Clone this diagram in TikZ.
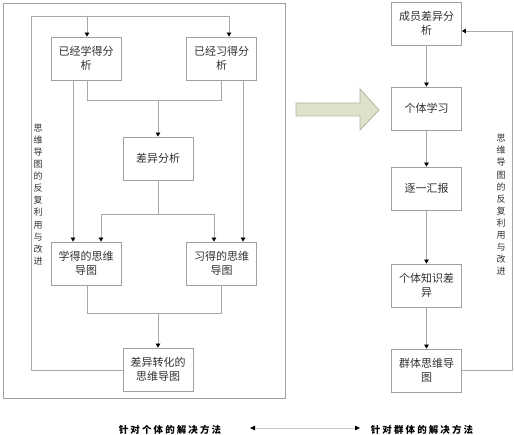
\documentclass[tikz,border=0pt]{standalone}
\usepackage{fontspec}
\newfontfamily\cjk{Noto Sans CJK SC}
\newfontfamily\cjksp[LetterSpace=22]{Noto Sans CJK SC}
\usetikzlibrary{arrows.meta}
\definecolor{boxgray}{HTML}{A0A0A0}
\definecolor{linegray}{HTML}{A8A8A8}
\definecolor{txt}{HTML}{303030}
\definecolor{arrfill}{HTML}{DDE2CC}
\definecolor{arrdraw}{HTML}{B0B69A}
\begin{document}
\begin{tikzpicture}[x=1pt,y=-1pt,
  box/.style={draw=boxgray,line width=0.8pt,minimum width=70pt,minimum height=43pt,align=center,font=\cjk\fontsize{11}{14.5}\selectfont,text=txt,inner sep=0pt},
  conn/.style={draw=linegray,line width=0.8pt},
  arr/.style={conn,-{Triangle[length=4pt,width=4.5pt,color=black]}},
  vtext/.style={align=center,font=\cjk\fontsize{9}{12.1}\selectfont,text=txt,inner sep=0pt},
  captext/.style={font=\cjksp\bfseries\fontsize{9.5}{11}\selectfont,text=black,inner sep=0pt}]
\useasboundingbox (0,0) rectangle (514,435);
% outer frame
\draw[draw=boxgray,line width=0.8pt] (3,3) rectangle (285,398);
% left boxes
\node[box] (A) at (86,58.5) {已经学得分\\析};
\node[box] (B) at (221.5,58.5) {已经习得分\\析};
\node[box] (C) at (158,158.5) {差异分析};
\node[box] (D) at (86,263.5) {学得的思维\\导图};
\node[box] (E) at (221.5,263.5) {习得的思维\\导图};
\node[box] (F) at (158,369.5) {差异转化的\\思维导图};
% right boxes
\node[box] (G) at (426.5,23.5) {成员差异分\\析};
\node[box] (H) at (426.5,108.5) {个体学习};
\node[box] (I) at (426.5,188.5) {逐一汇报};
\node[box] (J) at (426.5,285.5) {个体知识差\\异};
\node[box] (K) at (426.5,370.5) {群体思维导\\图};
% left loop
\draw[conn] (F.west |- 0,370) -- (31,370) -- (31,16) -- (229,16);
\draw[arr] (87,16) -- (87,0 |- A.north);
\draw[arr] (229,16) -- (229,0 |- B.north);
% A,B -> C
\draw[conn] (87,0 |- A.south) -- (87,100) -- (221,100) -- (221,0 |- B.south);
\draw[arr] (158,100) -- (C.north);
% A -> D, B -> E
\draw[arr] (73,0 |- A.south) -- (73,0 |- D.north);
\draw[arr] (243,0 |- B.south) -- (243,0 |- E.north);
% C -> D,E
\draw[conn] (C.south) -- (158,214);
\draw[arr] (158,214) -- (101,214) -- (101,0 |- D.north);
\draw[arr] (158,214) -- (214,214) -- (214,0 |- E.north);
% D,E -> F
\draw[conn] (87,0 |- D.south) -- (87,313) -- (221,313) -- (221,0 |- E.south);
\draw[arr] (158,313) -- (F.north);
% vertical texts
\node[vtext] (vl) at (38,194.5) {思\\维\\导\\图\\的\\反\\复\\利\\用\\与\\改\\进};
\node[vtext] (vr) at (501,205) {思\\维\\导\\图\\的\\反\\复\\利\\用\\与\\改\\进};
% right chain
\draw[arr] (G) -- (H);
\draw[arr] (H) -- (I);
\draw[arr] (I) -- (J);
\draw[arr] (J) -- (K);
\draw[arr] (K.east |- 0,370) -- (512,370) -- (512,31) -- (G.east |- 0,31);
% big arrow
\draw[fill=arrfill,draw=arrdraw,line width=0.8pt] (296,103) -- (360,103) -- (360,89) -- (379,110) -- (360,130) -- (360,116) -- (296,116) -- cycle;
% captions
\node[captext] (cl) at (170,430) {针对个体的解决方法};
\node[captext] (cr) at (422,430) {针对群体的解决方法};
\coordinate (al) at (250,428);
\coordinate (ar) at (360,428);
\draw[draw=black!20,line width=0.8pt,{Triangle[length=5pt,width=4.5pt,color=black]}-{Triangle[length=5pt,width=4.5pt,color=black]}] (al) -- (ar);
\end{tikzpicture}
\end{document}
